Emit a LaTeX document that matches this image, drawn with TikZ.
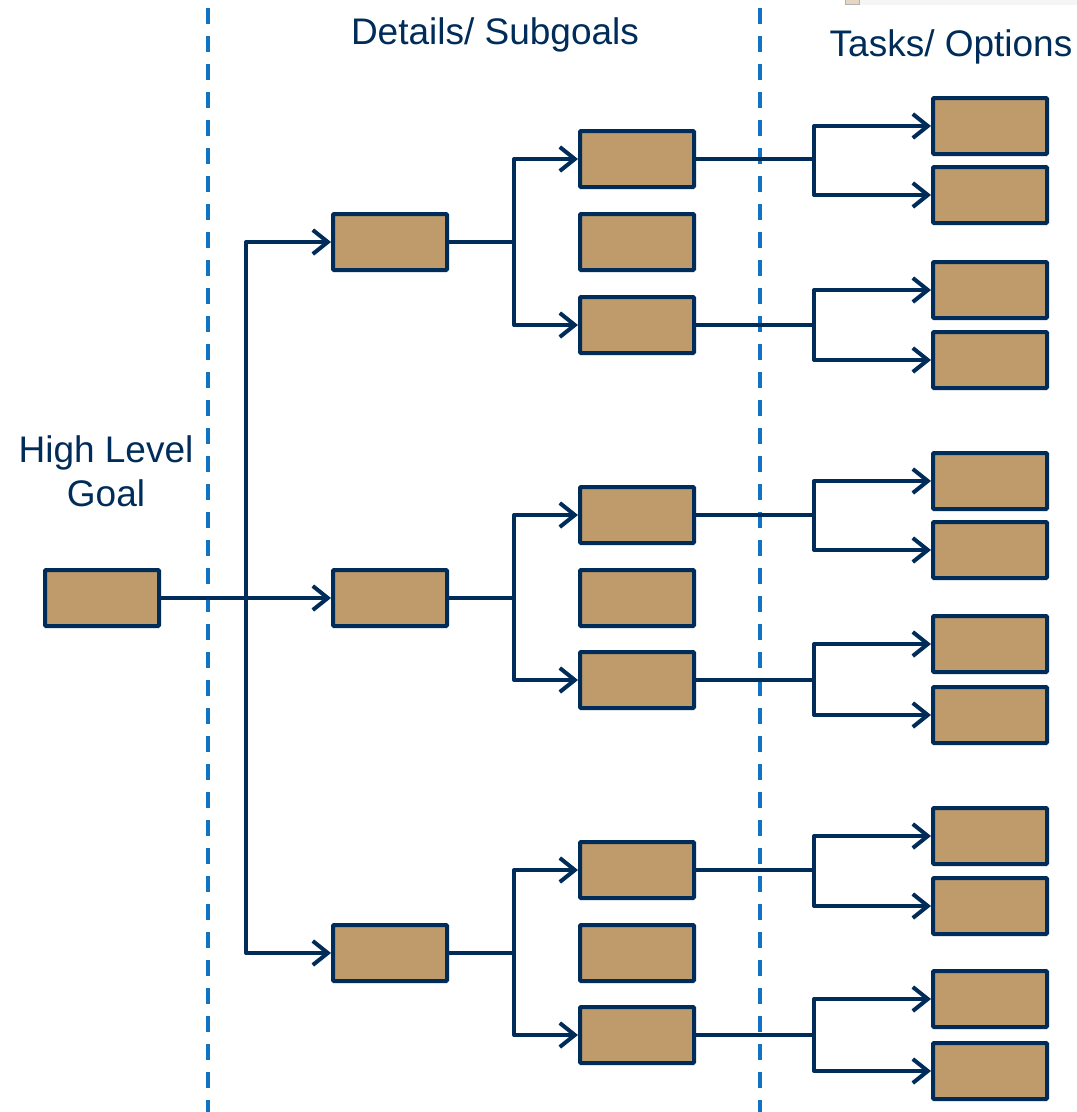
\documentclass[tikz,border=0pt]{standalone}
\usepackage{fontspec}
\setmainfont{Liberation Sans}
\usetikzlibrary{arrows.meta}
\definecolor{navy}{RGB}{0,44,89}
\definecolor{tan}{RGB}{191,154,107}
\definecolor{guide}{RGB}{16,115,196}
\tikzset{
  box/.style={draw=navy, fill=tan, line width=4pt, rounded corners=1pt,
    minimum width=114pt, minimum height=56pt, inner sep=0pt},
  link/.style={draw=navy, line width=4pt, line join=round},
  arr/.style={link, -{Straight Barb[length=15pt,width=24pt,line width=4pt]}},
  divider/.style={draw=guide, line width=4pt, dash pattern=on 16pt off 12pt},
  heading/.style={text=navy, font=\fontsize{37}{44}\selectfont, inner sep=0pt}
}
\begin{document}
\begin{tikzpicture}[x=1pt, y=-1pt]
\useasboundingbox (0,0) rectangle (1077,1112);
\fill[white] (0,0) rectangle (1077,1112);

% small strip at the top edge
\fill[gray!8] (860,0) rectangle (1077,5);
\draw[gray!60, fill=tan!40, line width=0.8pt] (845,-1) rectangle (859,4);

% column dividers
\draw[divider] (208,8) -- (208,1112);
\draw[divider] (760,8) -- (760,1112);

% column headings
\node[heading, anchor=base] (hd) at (495,44) {Details/ Subgoals};
\node[heading, anchor=base] (ht) at (951,56) {Tasks/ Options};
\node[heading, anchor=base, align=center] (hg) at (106,506) {High Level\\[-0.2pt]Goal};

% root
\node[box] (r) at (102,598) {};

% first level
\node[box] (a) at (390,242) {};
\node[box] (b) at (390,598) {};
\node[box] (c) at (390,953) {};

% second level
\foreach \n/\y in {a1/159,a2/242,a3/325,b1/515,b2/598,b3/680,c1/870,c2/953,c3/1035}
  \node[box] (\n) at (637,\y) {};

% third level
\foreach \n/\y in {a1u/126,a1d/195,a3u/290,a3d/360,b1u/481,b1d/550,b3u/644,b3d/715,c1u/836,c1d/906,c3u/999,c3d/1071}
  \node[box] (\n) at (990,\y) {};

% root to first level
\coordinate (j0) at (246,598);
\draw[arr] (r.east) -- (b.west);
\draw[arr] (j0) |- (a.west);
\draw[arr] (j0) |- (c.west);

% first level to second level
\foreach \p in {a,b,c}{
  \coordinate (j\p) at ([xshift=65pt]\p.east);
  \draw[link] (\p.east) -- (j\p);
  \draw[arr] (j\p) |- (\p1.west);
  \draw[arr] (j\p) |- (\p3.west);
}

% second level to third level
\foreach \p in {a1,a3,b1,b3,c1,c3}{
  \coordinate (k\p) at ([xshift=118pt]\p.east);
  \draw[link] (\p.east) -- (k\p);
  \draw[arr] (k\p) |- (\p u.west);
  \draw[arr] (k\p) |- (\p d.west);
}
\end{tikzpicture}
\end{document}
